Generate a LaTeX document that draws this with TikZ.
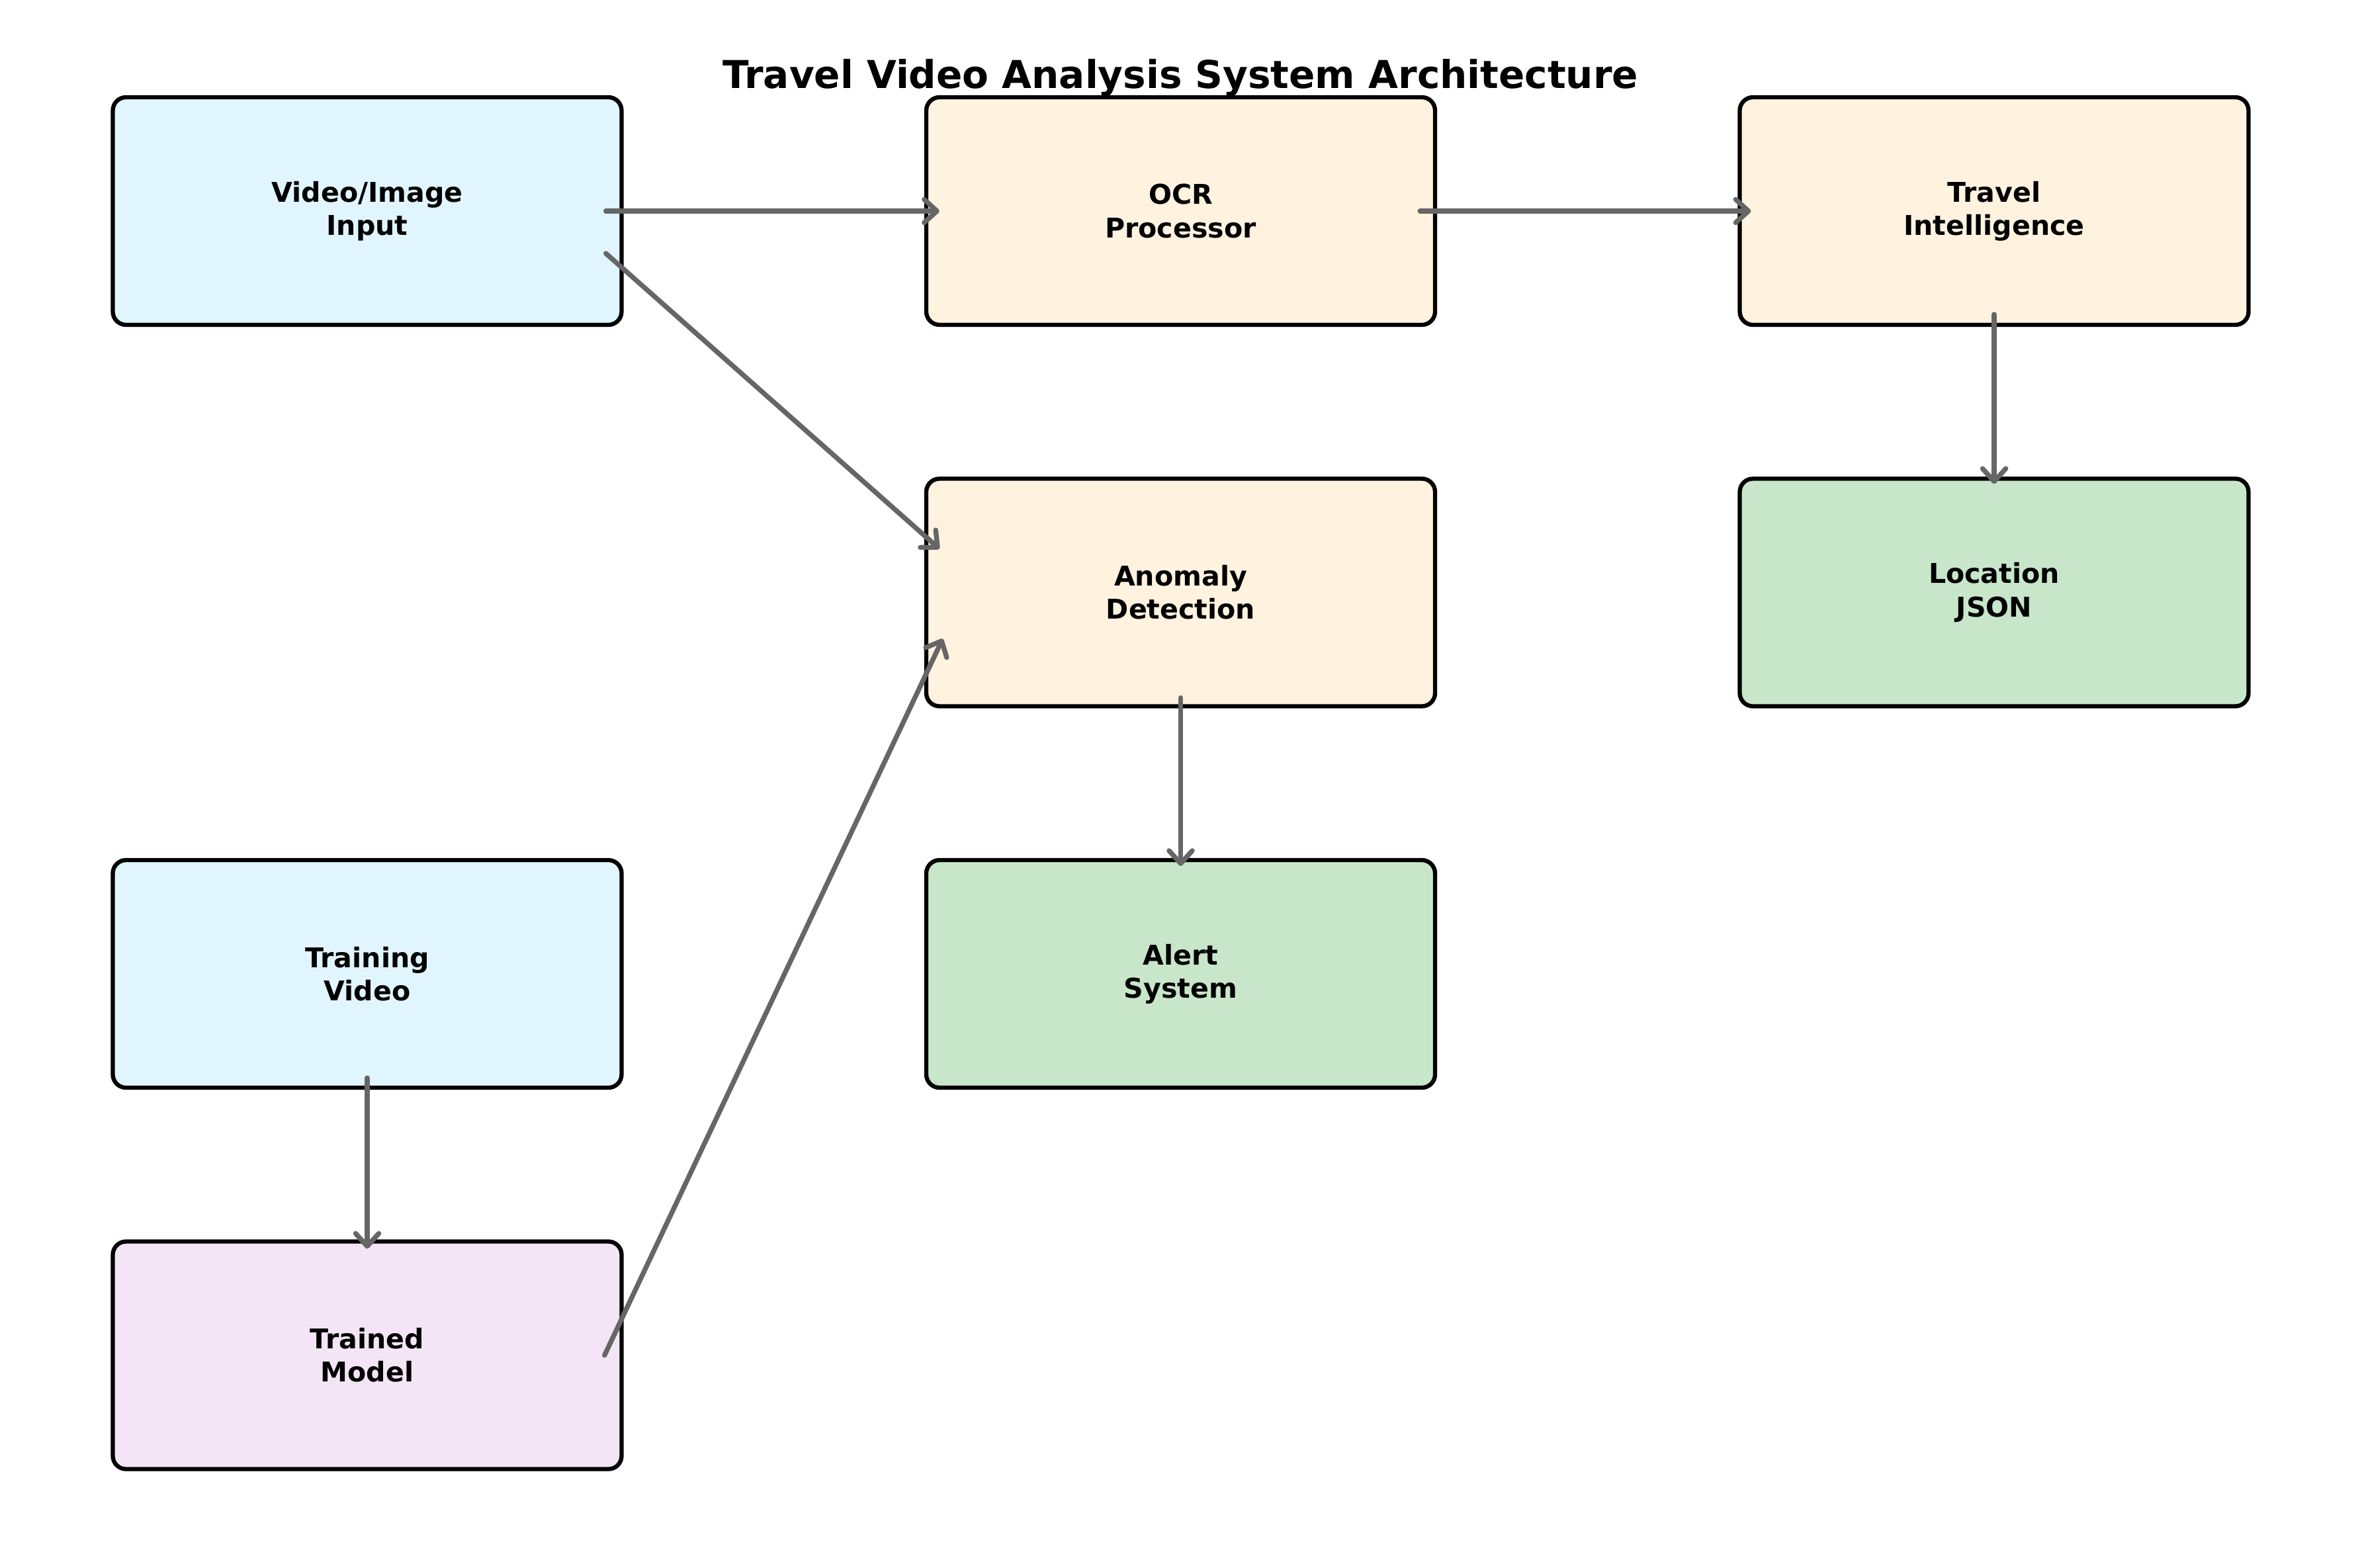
\documentclass[tikz,border=0pt]{standalone}
\usepackage{fontspec}
\setmainfont{DejaVu Sans}
\usepackage{tikz}
\usetikzlibrary{arrows.meta,positioning}
\definecolor{inputblue}{HTML}{E1F5FE}
\definecolor{procorange}{HTML}{FFF3E0}
\definecolor{outgreen}{HTML}{C8E6C9}
\definecolor{modelpurple}{HTML}{F3E5F5}
\definecolor{arrowgray}{HTML}{666666}
\begin{document}
\begin{tikzpicture}
\tikzstyle{box}=[draw=black, line width=1.8pt, rounded corners=0.2cm, minimum width=7.69cm, minimum height=3.44cm, inner sep=0pt, align=center, font=\bfseries\fontsize{11.7}{14.3}\selectfont]
\tikzstyle{flow}=[draw=arrowgray, line width=2.1pt, line cap=round, -{Straight Barb[length=5.5pt,width=10pt,round]}]
\useasboundingbox (0,0) rectangle (35.7,-23.7);
\node [anchor=base, font=\bfseries\fontsize{16.5}{19}\selectfont] (title) at (17.84,-1.34) {Travel Video Analysis System Architecture};
\node [box, fill=inputblue] (vid) at (5.55,-3.19) {Video/Image\\Input};
\node [box, fill=procorange] (ocr) at (17.845,-3.19) {OCR\\Processor};
\node [box, fill=procorange] (trav) at (30.14,-3.19) {Travel\\Intelligence};
\node [box, fill=procorange] (anom) at (17.845,-8.955) {Anomaly\\Detection};
\node [box, fill=outgreen] (loc) at (30.14,-8.955) {Location\\JSON};
\node [box, fill=inputblue] (train) at (5.55,-14.72) {Training\\Video};
\node [box, fill=outgreen] (alert) at (17.845,-14.72) {Alert\\System};
\node [box, fill=modelpurple] (model) at (5.55,-20.485) {Trained\\Model};
\draw [flow] ([xshift=-0.27cm]vid.east) -- ([xshift=0.23cm]ocr.west);
\draw [flow] ([xshift=-0.26cm]ocr.east) -- ([xshift=0.2cm]trav.west);
\draw [flow] ([shift={(-0.27,-0.64)}]vid.east) -- ([shift={(0.23,0.66)}]anom.west);
\draw [flow] ([yshift=0.19cm]trav.south) -- ([yshift=-0.11cm]loc.north);
\draw [flow] ([yshift=0.16cm]anom.south) -- ([yshift=-0.12cm]alert.north);
\draw [flow] ([yshift=0.18cm]train.south) -- ([yshift=-0.14cm]model.north);
\draw [flow] ([xshift=-0.29cm]model.east) -- ([shift={(0.28,-0.70)}]anom.west);
\end{tikzpicture}
\end{document}
